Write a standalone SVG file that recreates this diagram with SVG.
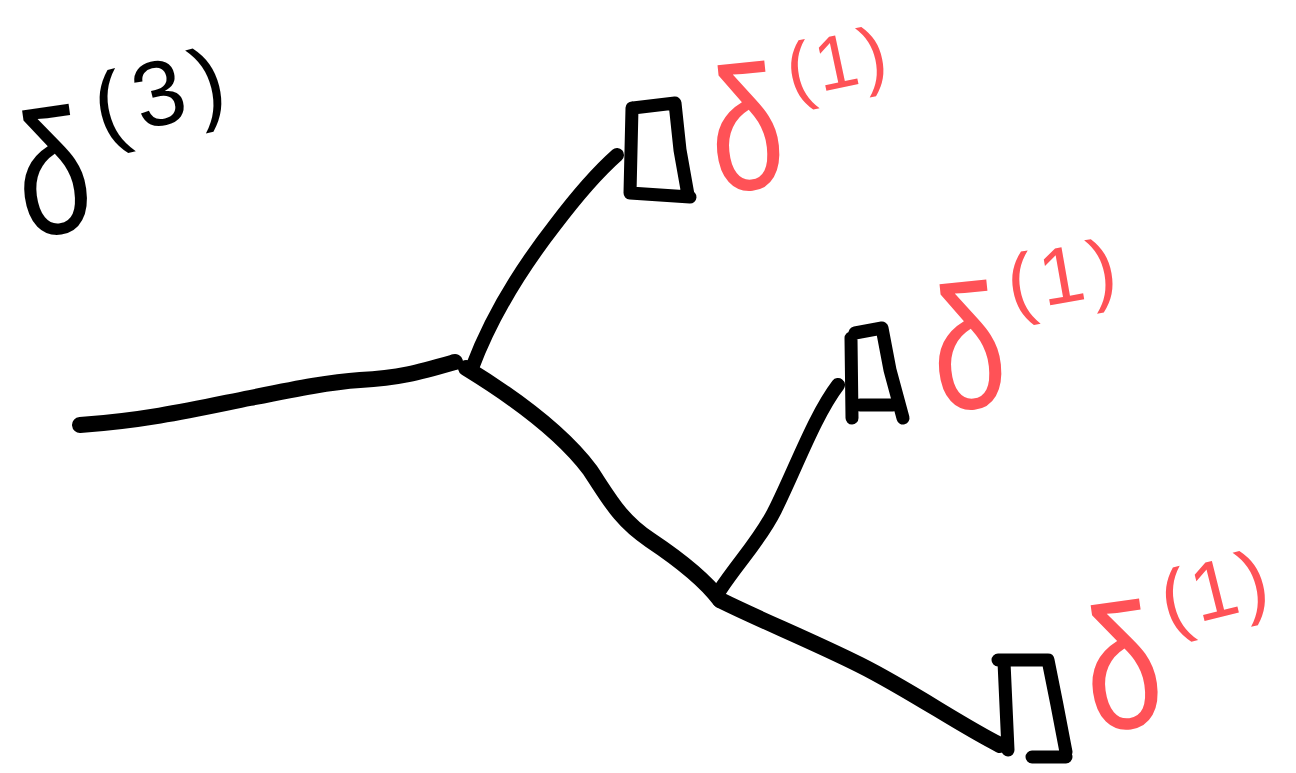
<svg xmlns="http://www.w3.org/2000/svg" width="1296" height="773" viewBox="0 0 1296 773">
<style>
.ink{fill:none;stroke:#000;stroke-linecap:round;stroke-linejoin:round}
.br{stroke-width:14}
.trunk{stroke-width:16}
.box{stroke-width:13}
.lbl{font-family:"Liberation Sans","DejaVu Sans",sans-serif}
.red{fill:#ff5257}
.blk{fill:#000}
</style>
<rect width="1296" height="773" fill="#fff"/>
<g id="connectors">
<path class="ink trunk" d="M80,425 C150,420 200,408 250,398 C300,388 330,382 360,380 C400,378 420,372 455,362"/>
<path class="ink br" d="M472,368 C490,320 520,270 555,225 C580,192 600,170 617,155"/>
<path class="ink trunk" d="M466,368 C510,395 560,430 590,470 C610,500 620,520 650,540 C680,560 705,580 720,600"/>
<path class="ink br" d="M720,590 C740,560 760,540 775,510 C795,470 815,415 838,385"/>
<path class="ink trunk" d="M720,600 C760,620 810,640 860,665 C910,690 960,725 1000,745"/>
</g>
<g id="leaf1">
<path class="ink box" d="M632,108 L630,193 L690,197 M633,108 L675,103 L680,150 L688,195"/>
</g>
<g id="leaf2">
<path class="ink box" d="M851,338 L852,418 M855,333 L882,328 L890,370 L903,418 M860,405 L893,405"/>
</g>
<g id="leaf3">
<path class="ink box" d="M998,660 L1048,660 L1057,705 L1066,752 M1004,662 L1008,750 M1032,757 L1066,757"/>
</g>
<g id="label-d3">
<text class="lbl blk" transform="translate(25,238) rotate(-8) scale(0.75,1)" font-size="175">δ</text>
<text class="lbl blk" transform="translate(102,140) rotate(-14)" font-size="92" letter-spacing="10">(3)</text>
</g>
<g id="label-d1-a">
<text class="lbl red" transform="translate(716,193) rotate(-6) scale(0.75,1)" font-size="175">δ</text>
<text class="lbl red" transform="translate(792,98) rotate(-12)" font-size="76" letter-spacing="4">(1)</text>
</g>
<g id="label-d1-b">
<text class="lbl red" transform="translate(938,412) rotate(-6) scale(0.75,1)" font-size="175">δ</text>
<text class="lbl red" transform="translate(1012,312) rotate(-10)" font-size="80" letter-spacing="6">(1)</text>
</g>
<g id="label-d1-c">
<text class="lbl red" transform="translate(1093,733) rotate(-8) scale(0.78,1)" font-size="175">δ</text>
<text class="lbl red" transform="translate(1168,630) rotate(-14)" font-size="82" letter-spacing="4">(1)</text>
</g>
</svg>
